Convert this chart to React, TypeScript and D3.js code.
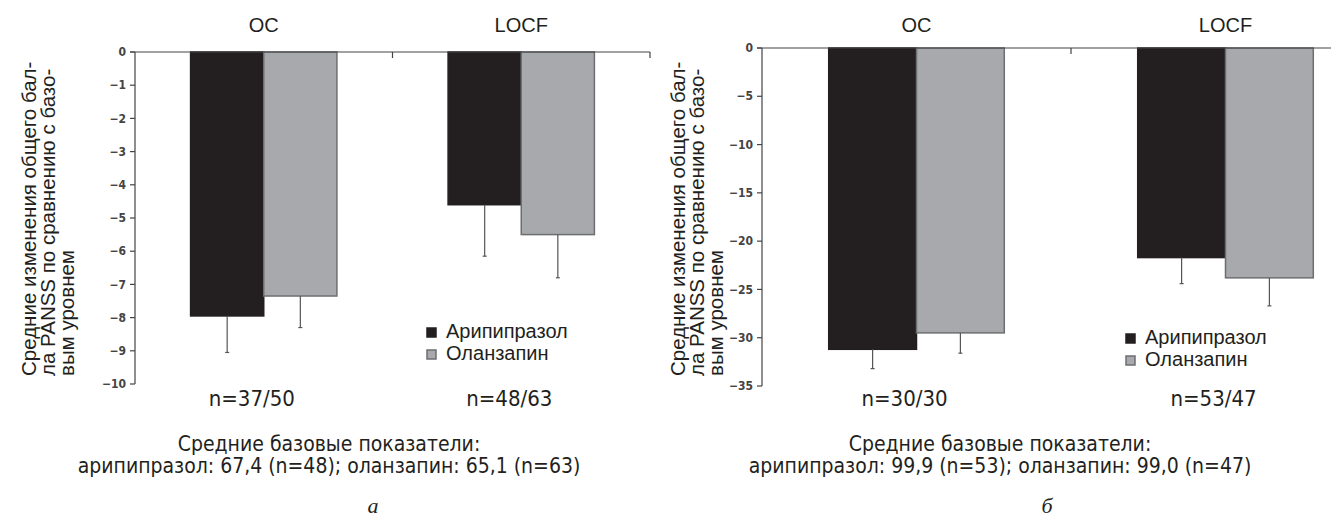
import React from 'react'
import * as d3 from 'd3'

// shared categories
const groups = ['OC', 'LOCF']
const drugs = ['Арипипразол', 'Оланзапин']
const yLabel = ['Средние изменения общего бал-', 'ла PANSS по сравнению с базо-', 'вым уровнем']

// panel а
const changeA = [
  [-7.95, -7.35],
  [-4.6, -5.5],
]
const sdA = [
  [1.1, 0.95],
  [1.55, 1.3],
]
const ticksA = [0, -1, -2, -3, -4, -5, -6, -7, -8, -9, -10]
const nA = ['n=37/50', 'n=48/63']
const baseA = ['Средние базовые показатели:', 'арипипразол: 67,4 (n=48); оланзапин: 65,1 (n=63)']

// panel б
const changeB = [
  [-31.2, -29.5],
  [-21.7, -23.8],
]
const sdB = [
  [2.0, 2.1],
  [2.7, 2.9],
]
const ticksB = [0, -5, -10, -15, -20, -25, -30, -35]
const nB = ['n=30/30', 'n=53/47']
const baseB = ['Средние базовые показатели:', 'арипипразол: 99,9 (n=53); оланзапин: 99,0 (n=47)']

const colors = ['#231f20', '#a7a9ac']
const strokes = ['#231f20', '#6d6e71']
const sans = '"Liberation Sans", Arial, Helvetica, sans-serif'
const narrow = '"Liberation Sans Narrow", "Arial Narrow", "DejaVu Sans Condensed", sans-serif'

type PanelProps = {
  left: number
  right: number
  top: number
  bottom: number
  ticks: number[]
  values: number[][]
  sd: number[][]
  nLabels: string[]
  caption: string[]
  captionX: number
  letter: string
  letterX: number
  labelX: number
  legendX: number
  legendY: number
}

const Panel = (p: PanelProps) => {
  const x = d3.scaleBand().domain(groups).range([p.left, p.right])
  const xi = d3.scaleBand().domain(drugs).range([0, x.bandwidth()]).paddingOuter(0.76)
  const y = d3
    .scaleLinear()
    .domain([d3.min(p.ticks) as number, 0])
    .range([p.bottom, p.top])

  return (
    <g>
      {/* y label, three rotated lines */}
      {yLabel.map((t, i) => (
        <text
          key={t}
          transform={`translate(${p.labelX + i * 19},376) rotate(-90)`}
          fontFamily={sans}
          fontSize={20.5}
          fill='#231f20'
        >
          {t}
        </text>
      ))}

      {/* bars */}
      {groups.map((g, gi) =>
        drugs.map((d, di) => {
          const v = p.values[gi][di]
          const bx = (x(g) as number) + (xi(d) as number)
          const w = xi.bandwidth()
          const cx = bx + w / 2
          const lo = v - p.sd[gi][di]
          return (
            <g key={g + d}>
              <rect
                x={bx}
                y={y(0)}
                width={w}
                height={y(v) - y(0)}
                fill={colors[di]}
                stroke={strokes[di]}
                strokeWidth={1.5}
              />
              <line x1={cx} x2={cx} y1={y(v)} y2={y(lo)} stroke='#555' strokeWidth={1.2} />
              <line x1={cx - 2} x2={cx + 2} y1={y(lo)} y2={y(lo)} stroke='#555' strokeWidth={1.2} />
            </g>
          )
        })
      )}

      {/* axes */}
      <line x1={p.left} x2={p.left} y1={y(0)} y2={p.bottom} stroke='#444' strokeWidth={1.2} />
      <line x1={p.left - 5} x2={p.right} y1={y(0)} y2={y(0)} stroke='#444' strokeWidth={1.2} />
      {groups.map((g) => (
        <line
          key={g}
          x1={(x(g) as number) + x.bandwidth()}
          x2={(x(g) as number) + x.bandwidth()}
          y1={y(0)}
          y2={y(0) + 6}
          stroke='#444'
          strokeWidth={1.2}
        />
      ))}
      {p.ticks.map((t) => (
        <g key={t}>
          <line x1={p.left - 5} x2={p.left} y1={y(t)} y2={y(t)} stroke='#444' strokeWidth={1.2} />
          <text
            x={p.left - 9}
            y={y(t)}
            dy='0.35em'
            textAnchor='end'
            fontFamily={narrow}
            fontWeight='bold'
            fontSize={12}
            fill='#444'
          >
            {t === 0 ? '0' : '−' + Math.abs(t)}
          </text>
        </g>
      ))}

      {/* group titles and n */}
      {groups.map((g, gi) => (
        <g key={g}>
          <text
            x={(x(g) as number) + x.bandwidth() / 2}
            y={32}
            textAnchor='middle'
            fontFamily={sans}
            fontSize={20}
            fill='#231f20'
          >
            {g}
          </text>
          <text
            x={(x(g) as number) + x.bandwidth() / 2 - 12}
            y={406}
            textAnchor='middle'
            fontFamily={narrow}
            fontSize={22}
            fill='#231f20'
          >
            {p.nLabels[gi]}
          </text>
        </g>
      ))}

      {/* legend */}
      {drugs.map((d, di) => (
        <g key={d} transform={`translate(${p.legendX},${p.legendY + di * 22})`}>
          <rect x={0} y={-10} width={9} height={9} fill={colors[di]} stroke={strokes[di]} strokeWidth={1.5} />
          <text x={19} y={0} fontFamily={sans} fontSize={20} fill='#231f20'>
            {d}
          </text>
        </g>
      ))}

      {/* caption */}
      {p.caption.map((c, i) => (
        <text
          key={c}
          x={p.captionX}
          y={451 + i * 22}
          textAnchor='middle'
          fontFamily={narrow}
          fontSize={21}
          fill='#231f20'
        >
          {c}
        </text>
      ))}
      <text
        x={p.letterX}
        y={513}
        textAnchor='middle'
        fontFamily='"Liberation Serif", "Times New Roman", serif'
        fontStyle='italic'
        fontSize={22}
        fill='#231f20'
      >
        {p.letter}
      </text>
    </g>
  )
}

const App = () => {
  return (
    <svg width={1331} height={520} style={{ position: 'absolute', left: 0, top: 0, background: '#fff' }}>
      <Panel
        left={135}
        right={650}
        top={52}
        bottom={384}
        ticks={ticksA}
        values={changeA}
        sd={sdA}
        nLabels={nA}
        caption={baseA}
        captionX={329}
        letter='а'
        letterX={373}
        labelX={36}
        legendX={427}
        legendY={338}
      />
      <Panel
        left={762}
        right={1380}
        top={48}
        bottom={386}
        ticks={ticksB}
        values={changeB}
        sd={sdB}
        nLabels={nB}
        caption={baseB}
        captionX={1000}
        letter='б'
        letterX={1047}
        labelX={685}
        legendX={1126}
        legendY={344}
      />
    </svg>
  )
}

export default App
